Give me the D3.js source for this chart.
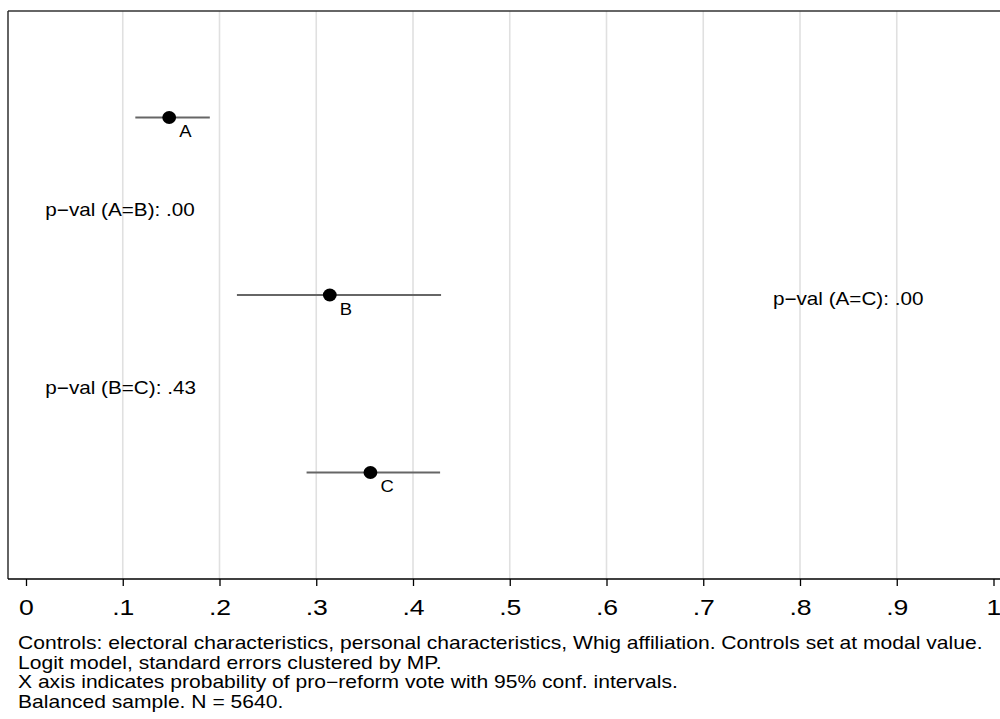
<!DOCTYPE html>
<html>
<head>
<meta charset="utf-8">
<script src="https://cdn.jsdelivr.net/npm/d3@7"></script>
<style>
  html, body { margin: 0; padding: 0; background: #fff; }
  svg { display: block; font-family: "Liberation Sans", Arial, Helvetica, sans-serif; }
</style>
</head>
<body>
<svg id="chart" width="1000" height="719"></svg>
<script>
// ---- data ----
const categories = ["A", "B", "C"];
const categoryPos = [1, 2, 3];
const estimates = [0.148, 0.314, 0.356];
const ciLow = [0.113, 0.218, 0.290];
const ciHigh = [0.190, 0.429, 0.428];
const xTicks = [0, 0.1, 0.2, 0.3, 0.4, 0.5, 0.6, 0.7, 0.8, 0.9, 1];
const xTickLabels = ["0", ".1", ".2", ".3", ".4", ".5", ".6", ".7", ".8", ".9", "1"];
const gridTicks = [0.1, 0.2, 0.3, 0.4, 0.5, 0.6, 0.7, 0.8, 0.9];
const pvalLabels = ["p\u2212val (A=B): .00", "p\u2212val (B=C): .43", "p\u2212val (A=C): .00"];
const pvalX = [0.02, 0.02, 0.772];
const pvalY = [1.5, 2.5, 2];
const notes = [
  "Controls: electoral characteristics, personal characteristics, Whig affiliation. Controls set at modal value.",
  "Logit model, standard errors clustered by MP.",
  "X axis indicates probability of pro\u2212reform vote with 95% conf. intervals.",
  "Balanced sample. N = 5640."
];

// ---- layout ----
const svg = d3.select("#chart");
const plotLeft = 8, plotTop = 11, plotBottom = 579, plotRight = 1000;
const stretch = 1.12; // horizontal glyph stretch seen in the reference
const x = d3.scaleLinear().domain([0, 1]).range([26, 993.5]);
const y = d3.scaleLinear().domain([0.4, 3.6]).range([plotTop, plotBottom]);

// gridlines
svg.append("g").selectAll("line").data(gridTicks).join("line")
  .attr("x1", d => x(d)).attr("x2", d => x(d))
  .attr("y1", plotTop).attr("y2", plotBottom)
  .attr("stroke", "#e0e0e0").attr("stroke-width", 1.6);

// frame: top and left
svg.append("line").attr("x1", plotLeft).attr("x2", plotRight)
  .attr("y1", plotTop).attr("y2", plotTop)
  .attr("stroke", "#333").attr("stroke-width", 1.6);
svg.append("line").attr("x1", plotLeft).attr("x2", plotLeft)
  .attr("y1", plotTop).attr("y2", plotBottom)
  .attr("stroke", "#222").attr("stroke-width", 1.4);

// x axis
const xAxis = d3.axisBottom(x).tickValues(xTicks)
  .tickFormat((d, i) => xTickLabels[i]).tickSize(7).tickSizeOuter(0);
const gx = svg.append("g").attr("transform", `translate(0,${plotBottom})`).call(xAxis);
gx.select(".domain").remove();
gx.selectAll(".tick line").attr("stroke", "#000").attr("stroke-width", 1.3);
gx.selectAll(".tick text").attr("font-size", 22).attr("fill", "#000")
  .attr("y", 36).attr("dy", 0)
  .attr("transform", `scale(${stretch * 1.08},1)`)
  .attr("font-family", "Liberation Sans, Arial, sans-serif");
svg.append("line").attr("x1", plotLeft).attr("x2", plotRight)
  .attr("y1", plotBottom).attr("y2", plotBottom)
  .attr("stroke", "#000").attr("stroke-width", 1.6);

// CI lines
svg.append("g").selectAll("line").data(categories).join("line")
  .attr("x1", (d, i) => x(ciLow[i])).attr("x2", (d, i) => x(ciHigh[i]))
  .attr("y1", (d, i) => y(categoryPos[i])).attr("y2", (d, i) => y(categoryPos[i]))
  .attr("stroke", "#666").attr("stroke-width", 2);

// points
svg.append("g").selectAll("ellipse").data(categories).join("ellipse")
  .attr("cx", (d, i) => x(estimates[i])).attr("cy", (d, i) => y(categoryPos[i]))
  .attr("rx", 6.9).attr("ry", 6.4).attr("fill", "#000");

// point labels
svg.append("g").selectAll("text").data(categories).join("text")
  .attr("transform", (d, i) => `translate(${x(estimates[i]) + 10},${y(categoryPos[i]) + 19.5}) scale(${stretch},1)`)
  .attr("font-size", 16.5).attr("fill", "#000").text(d => d);

// p-value annotations
svg.append("g").selectAll("text").data(pvalLabels).join("text")
  .attr("transform", (d, i) => `translate(${x(pvalX[i])},${y(pvalY[i]) + 10}) scale(${stretch + 0.03},1)`)
  .attr("font-size", 18).attr("fill", "#000").text(d => d);

// notes
svg.append("g").selectAll("text").data(notes).join("text")
  .attr("transform", (d, i) => `translate(18,${649 + i * 19.6}) scale(1.205,1)`)
  .attr("font-size", 17.5).attr("fill", "#000").text(d => d);
</script>
</body>
</html>
